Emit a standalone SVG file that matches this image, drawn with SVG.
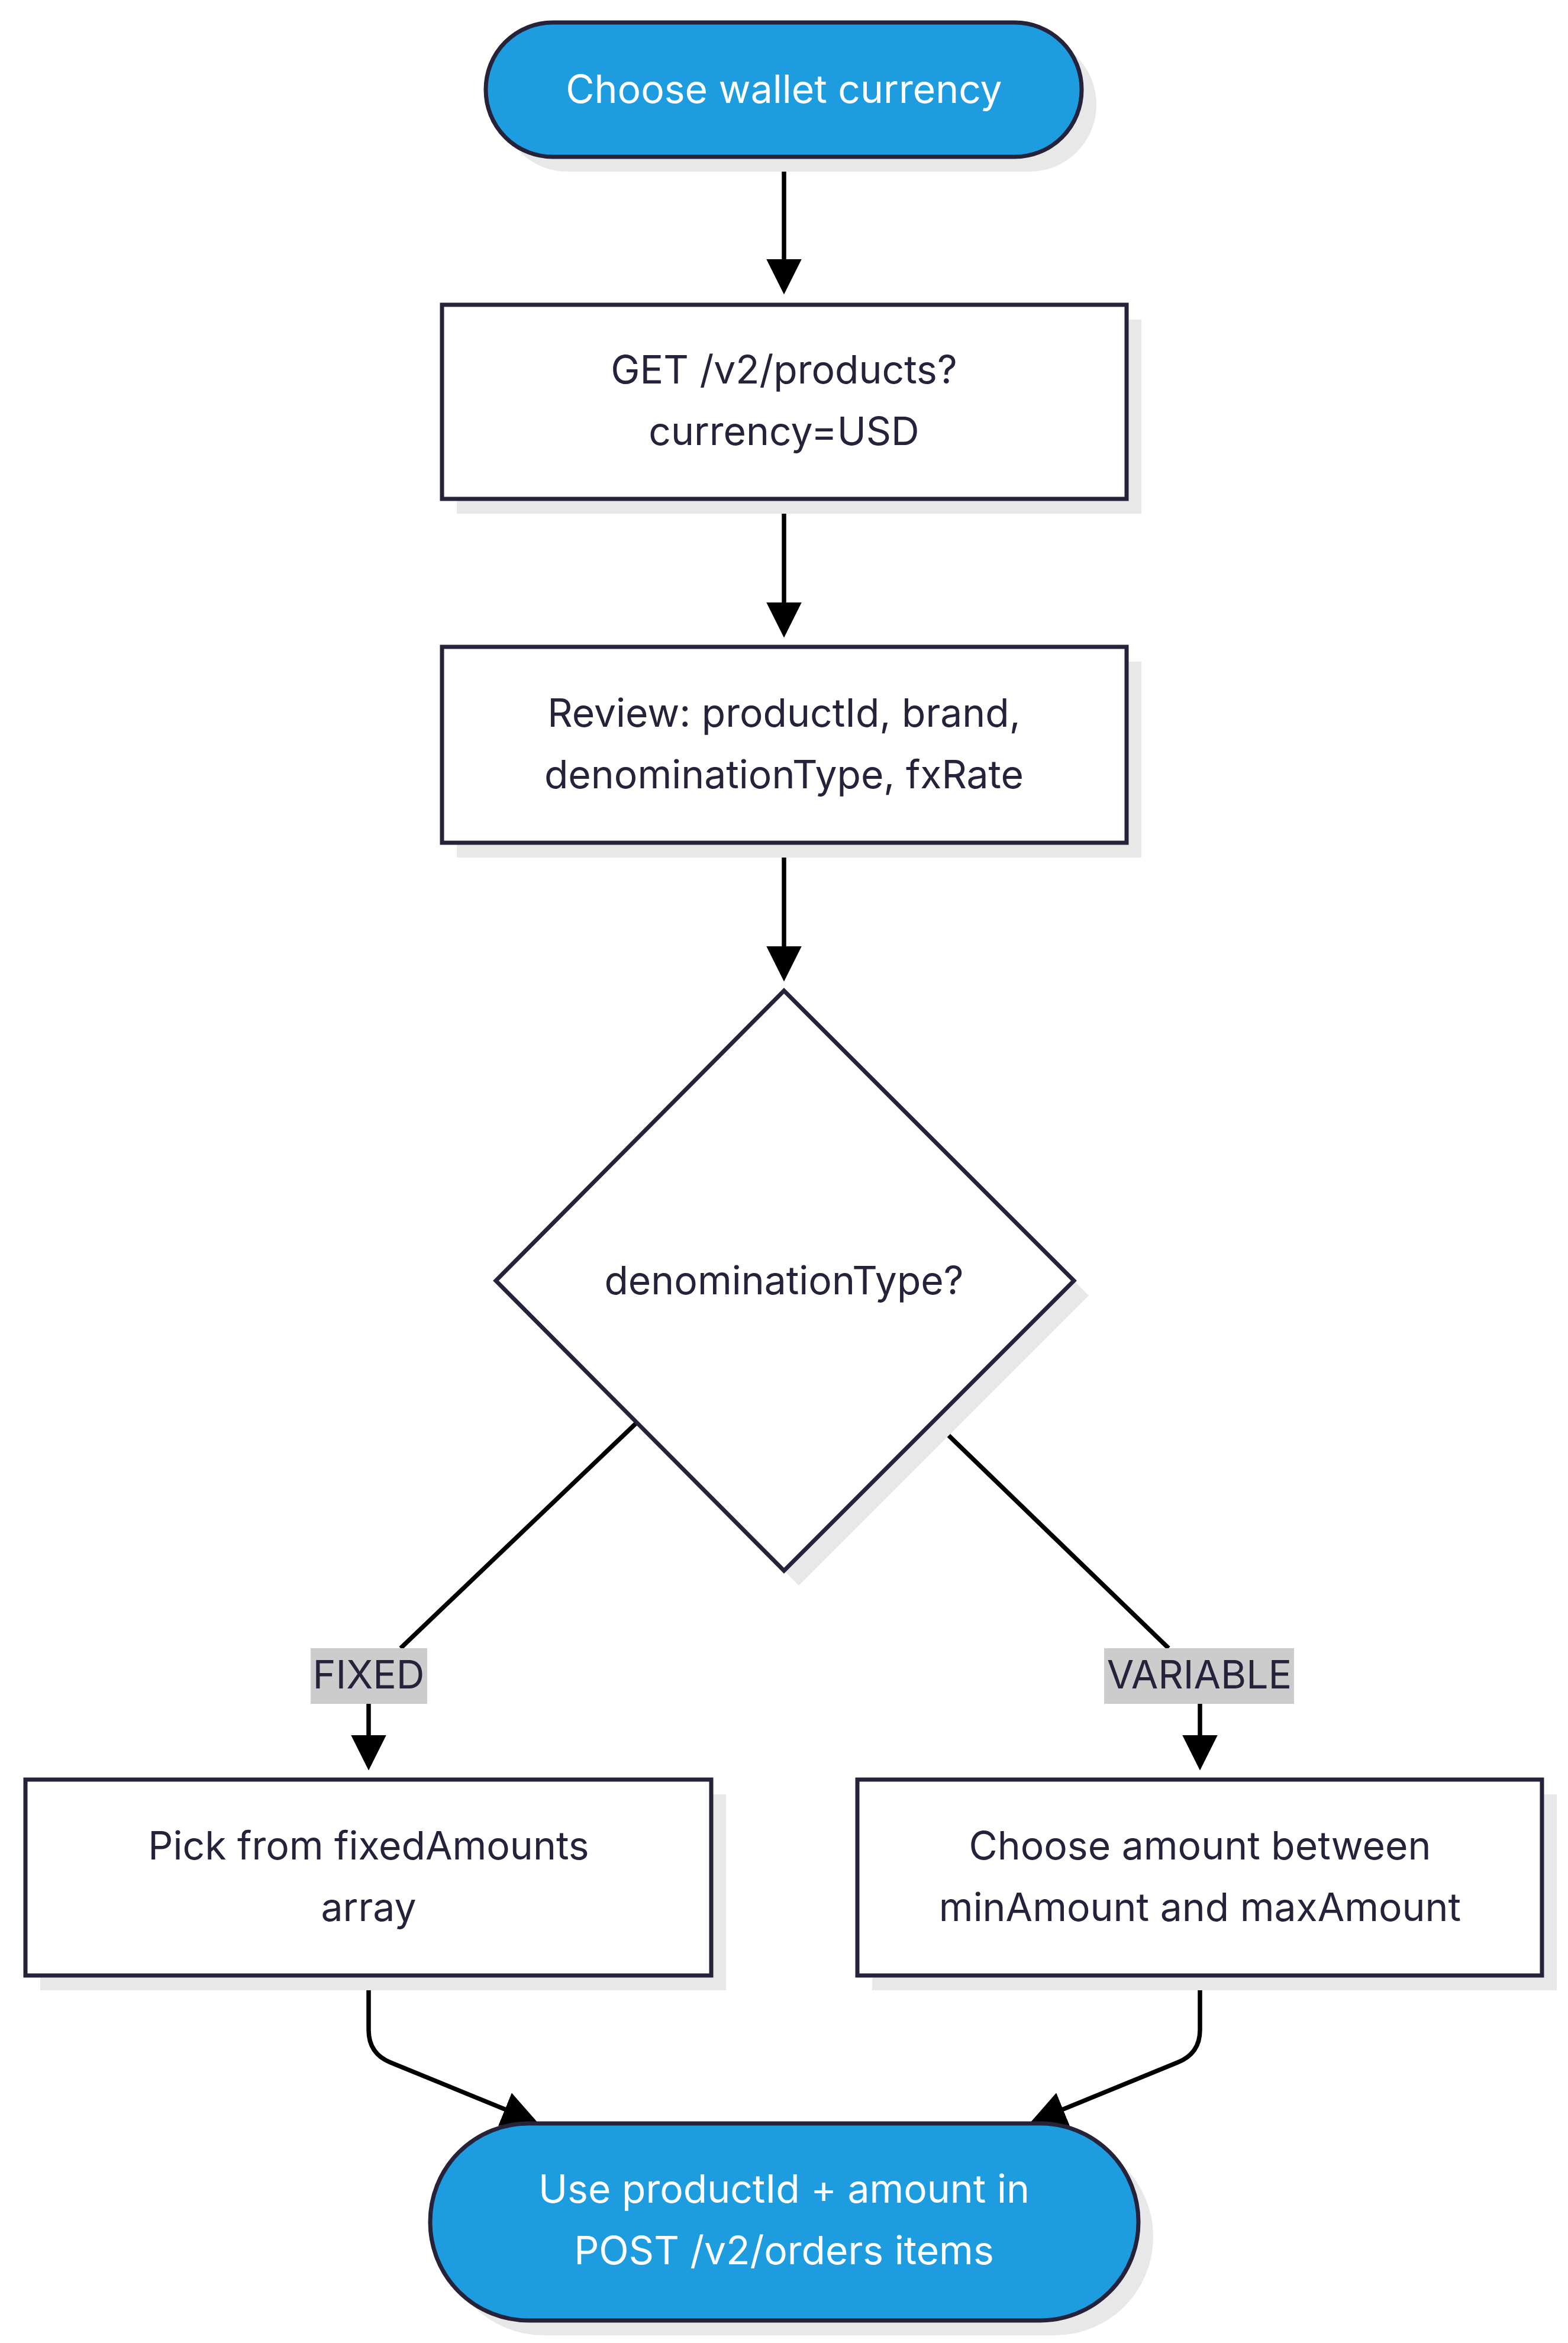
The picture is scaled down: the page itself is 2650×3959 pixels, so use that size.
<svg xmlns="http://www.w3.org/2000/svg" width="2650" height="3959" viewBox="0 0 2650 3959">
<style>
.sh{fill:#e8e8e8}
.box{fill:#fff;stroke:#25223a;stroke-width:7}
.pill{fill:#1d9de0;stroke:#25223a;stroke-width:7}
.t{font-family:"Inter","DejaVu Sans",sans-serif;font-size:66px;fill:#25223a;text-anchor:middle}
.w{fill:#fff}
.lbg{fill:#cccccc}
.e{fill:none;stroke:#000;stroke-width:7.5}
</style>
<defs><marker id="a" markerWidth="8" markerHeight="8" refX="7" refY="4" orient="auto" markerUnits="strokeWidth"><path d="M0,0 L8,4 L0,8 z" fill="#000"/></marker></defs>
<rect width="2650" height="3959" fill="#fff"/>
<g id="connectors">
<path class="e" d="M1325,265 L1325,490" marker-end="url(#a)"/>
<path class="e" d="M1325,843 L1325,1070" marker-end="url(#a)"/>
<path class="e" d="M1325,1424 L1325,1651" marker-end="url(#a)"/>
<path class="e" d="M1076,2404 L677,2785"/>
<path class="e" d="M1581,2404 L1975,2785"/>
<path class="e" d="M623,2879 L623,2984" marker-end="url(#a)"/>
<path class="e" d="M2028,2879 L2028,2984" marker-end="url(#a)"/>
<path class="e" d="M623,3338 L623,3430 Q623,3470 660,3485 L902,3584" marker-end="url(#a)"/>
<path class="e" d="M2028,3338 L2028,3430 Q2028,3470 1990,3485 L1748,3584" marker-end="url(#a)"/>
</g>
<g id="start"><rect class="sh" x="846" y="63" width="1007" height="227" rx="113"/><rect class="pill" x="821" y="38" width="1007" height="227" rx="113"/><text class="t w" x="1325" y="174">Choose wallet currency</text></g>
<g id="get"><rect class="sh" x="772" y="540" width="1157" height="328"/><rect class="box" x="747" y="515" width="1157" height="328"/><text class="t" x="1325" y="648">GET /v2/products?</text><text class="t" x="1325" y="752">currency=USD</text></g>
<g id="review"><rect class="sh" x="772" y="1118" width="1157" height="331"/><rect class="box" x="747" y="1093" width="1157" height="331"/><text class="t" x="1325" y="1228">Review: productId, brand,</text><text class="t" x="1325" y="1332">denominationType, fxRate</text></g>
<g id="decision"><path class="sh" d="M1350,1699 L1840,2189 L1350,2679 L863,2189 z"/><path class="box" d="M1325,1674 L1815,2164 L1325,2654 L838,2164 z"/><text class="t" x="1325" y="2187">denominationType?</text></g>
<g id="lblfixed"><rect class="lbg" x="525" y="2785" width="197" height="94"/><text class="t" x="623" y="2853">FIXED</text></g>
<g id="lblvar"><rect class="lbg" x="1866" y="2785" width="321" height="94"/><text class="t" x="2027" y="2853">VARIABLE</text></g>
<g id="fixed"><rect class="sh" x="68" y="3032" width="1159" height="331"/><rect class="box" x="43" y="3007" width="1159" height="331"/><text class="t" x="623" y="3142">Pick from fixedAmounts</text><text class="t" x="623" y="3246">array</text></g>
<g id="variable"><rect class="sh" x="1474" y="3032" width="1157" height="331"/><rect class="box" x="1449" y="3007" width="1157" height="331"/><text class="t" x="2028" y="3142">Choose amount between</text><text class="t" x="2028" y="3246">minAmount and maxAmount</text></g>
<g id="end"><rect class="sh" x="752" y="3613" width="1197" height="333" rx="166"/><rect class="pill" x="727" y="3588" width="1197" height="333" rx="166"/><text class="t w" x="1325" y="3722">Use productId + amount in</text><text class="t w" x="1325" y="3826">POST /v2/orders items</text></g>
</svg>
